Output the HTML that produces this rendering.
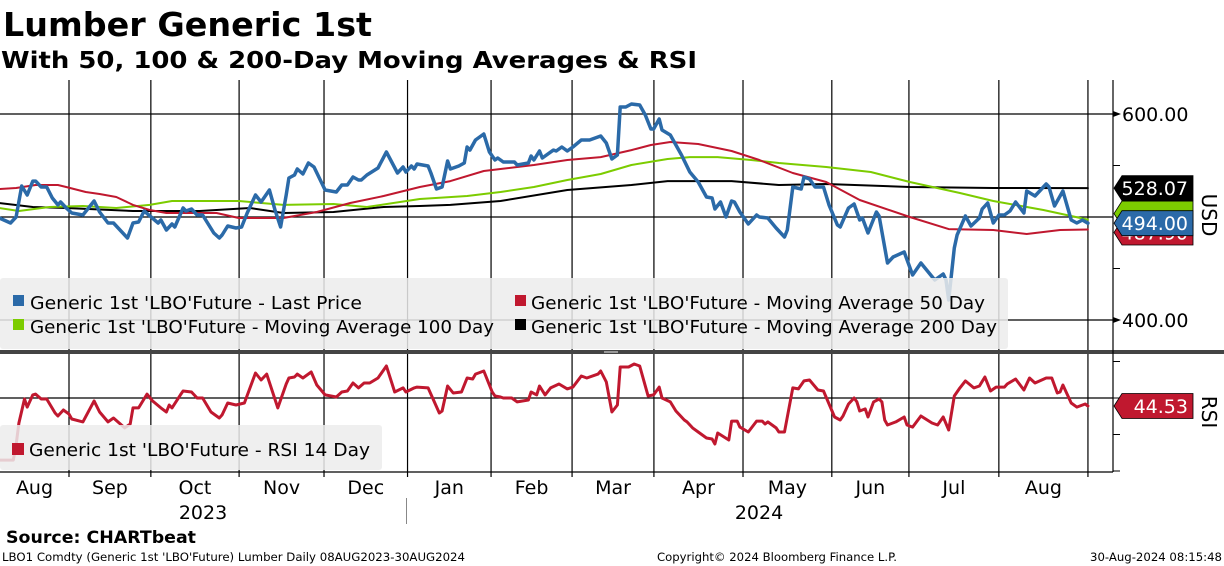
<!DOCTYPE html>
<html><head><meta charset="utf-8"><style>
html,body{margin:0;padding:0;background:#fff;}
svg{display:block;font-family:"DejaVu Sans","Liberation Sans",sans-serif;}
</style></head><body>
<svg id="chart" width="1224" height="566" viewBox="0 0 1224 566" xmlns="http://www.w3.org/2000/svg">
<text x="3" y="36" font-size="33" font-weight="bold" textLength="369" lengthAdjust="spacingAndGlyphs">Lumber Generic 1st</text>
<text x="1" y="68" font-size="23" font-weight="bold" textLength="696" lengthAdjust="spacingAndGlyphs">With 50, 100 &amp; 200-Day Moving Averages &amp; RSI</text>
<g id="grid"></g>
<g id="series"></g>
<g id="legend1">
<rect x="0" y="278" width="1008" height="71" rx="3" fill="#ececec" fill-opacity="0.85"/>
<rect x="13" y="295" width="11" height="11" fill="#2b6aa8"/>
<text x="30" y="309" font-size="18" textLength="332" lengthAdjust="spacingAndGlyphs">Generic 1st 'LBO'Future - Last Price</text>
<rect x="515" y="295" width="11" height="11" fill="#c0182f"/>
<text x="531" y="309" font-size="18" textLength="454" lengthAdjust="spacingAndGlyphs">Generic 1st 'LBO'Future - Moving Average 50 Day</text>
<rect x="13" y="319" width="11" height="11" fill="#7ccc00"/>
<text x="30" y="333" font-size="18" textLength="464" lengthAdjust="spacingAndGlyphs">Generic 1st 'LBO'Future - Moving Average 100 Day</text>
<rect x="515" y="319" width="11" height="11" fill="#000"/>
<text x="531" y="333" font-size="18" textLength="466" lengthAdjust="spacingAndGlyphs">Generic 1st 'LBO'Future - Moving Average 200 Day</text>
</g>
<g id="legend2">
<rect x="0" y="425" width="382" height="45" rx="3" fill="#ececec" fill-opacity="0.85"/>
<rect x="12" y="443" width="12" height="12" fill="#c0182f"/>
<text x="29" y="456" font-size="18" textLength="341" lengthAdjust="spacingAndGlyphs">Generic 1st 'LBO'Future - RSI 14 Day</text>
</g>
<rect x="0" y="350" width="1224" height="4" fill="#444"/>
<rect x="604" y="351" width="14" height="2" fill="#999"/>
<g id="axes"></g>
<g id="tags"></g>
<text transform="translate(1202,215) rotate(90)" text-anchor="middle" font-size="20">USD</text>
<text transform="translate(1202,412) rotate(90)" text-anchor="middle" font-size="20">RSI</text>
<text x="203" y="519" text-anchor="middle" font-size="19">2023</text>
<text x="759" y="519" text-anchor="middle" font-size="19">2024</text>
<line x1="406.5" y1="498" x2="406.5" y2="524" stroke="#888" stroke-width="1"/>
<text x="6" y="543" font-size="17" font-weight="bold" textLength="190" lengthAdjust="spacingAndGlyphs">Source: CHARTbeat</text>
<text x="2" y="561" font-size="11.5" textLength="463" lengthAdjust="spacingAndGlyphs">LBO1 Comdty (Generic 1st 'LBO'Future) Lumber  Daily 08AUG2023-30AUG2024</text>
<text x="657" y="561" font-size="11.5" textLength="240" lengthAdjust="spacingAndGlyphs">Copyright© 2024 Bloomberg Finance L.P.</text>
<text x="1222" y="561" font-size="11.5" text-anchor="end" textLength="132" lengthAdjust="spacingAndGlyphs">30-Aug-2024 08:15:48</text>
</svg>
<script>
// days since 2023-09-01
const priceDays=[-25,-21,-19,-17,-15,-13,-12,-10,-8,-6,-4,-3,-1,1,5,9,11,14,16,21,23,25,27,32,33,35,37,38,41,42,44,46,48,52,54,55,57,60,62,64,67,69,72,74,76,78,79,81,82,84,86,88,92,96,98,100,102,104,105,107,111,114,118,119,120,121,123,124,125,129,130,132,134,136,137,140,142,143,144,146,149,151,153,154,156,160,161,165,166,167,169,170,174,175,177,179,181,184,187,191,193,195,197,198,200,202,205,207,209,210,212,213,216,220,223,226,229,231,232,234,236,238,239,241,244,247,248,251,254,257,258,260,263,264,266,268,271,273,276,277,280,282,284,285,287,290,291,294,296,300,303,306,311,314,315,316,318,319,322,324,327,328,330,332,334,336,338,340,343,344,347,351,352,354,357,360,362,364,366];
const priceVals=[499.0,494.2,500.0,530.1,521.4,534.9,534.9,529.1,529.1,518.4,511.7,514.6,508.7,503.9,501.9,515.5,504.9,494.2,494.2,479.6,494.2,495.1,505.8,494.2,497.1,487.4,493.2,490.3,508.7,505.8,507.8,501.9,501.9,484.5,479.6,482.5,491.3,489.3,490.3,503.9,521.4,514.6,526.2,506.8,490.3,521.4,537.9,540.8,546.6,541.7,552.4,548.5,526.2,524.3,531.1,531.1,538.8,535.9,535.9,540.8,547.6,563.1,542.7,545.6,548.5,543.7,549.5,546.6,551.5,549.5,542.7,527.2,529.1,554.4,546.6,549.5,552.4,568.0,565.0,574.8,580.6,563.1,555.3,557.3,553.4,553.4,550.5,552.4,559.2,555.3,564.1,557.3,565.0,564.1,568.0,564.1,568.0,574.8,574.8,578.6,571.8,556.3,560.2,606.8,606.8,609.7,608.7,599.0,585.4,585.4,595.1,584.5,579.6,560.2,543.7,534.0,519.4,518.4,507.8,514.6,500.0,515.5,514.6,504.9,493.2,501.9,500.0,499.0,489.3,480.6,487.4,529.1,527.2,538.8,536.9,529.1,529.1,511.7,492.2,490.3,508.7,512.6,497.1,499.0,484.5,504.9,501.0,455.3,461.2,466.0,443.7,455.3,438.8,444.7,438.8,419.4,469.9,482.5,501.0,491.3,499.0,507.8,513.6,494.2,501.9,501.9,505.8,514.6,503.9,525.2,520.4,532.0,529.1,510.7,525.2,497.1,494.2,497.1,494.0];
const ma50Days=[-25,-19,-12,-4,-1,6,11,17,23,29,35,53,61,77,89,101,113,126,137,149,155,167,179,191,202,209,216,226,238,248,260,272,284,302,316,332,344,356,366];
const ma50Vals=[527.2,528.2,531.1,531.1,529.1,524.3,522.3,519.4,511.7,506.8,503.9,503.9,499.0,499.0,504.9,513.6,520.4,529.1,534.9,544.7,546.6,550.5,555.3,558.2,565.0,569.9,572.8,570.9,564.1,555.3,542.7,534.0,516.5,500.0,488.3,487.4,483.5,487.4,487.9];
const ma100Days=[-25,-18,-7,5,17,29,37,47,61,77,95,107,126,143,155,167,179,191,202,215,223,233,245,255,272,288,302,320,332,350,366];
const ma100Vals=[508.7,505.8,509.7,510.7,508.7,511.7,515.5,515.5,515.5,511.7,512.6,509.7,517.5,520.4,524.3,529.1,535.9,541.7,550.5,556.3,558.2,558.2,555.3,552.4,548.5,543.7,534.0,523.3,515.5,506.8,497.5];
const ma200Days=[-25,-13,-1,23,47,65,77,95,113,126,137,155,179,202,215,238,255,272,302,332,366];
const ma200Vals=[513.6,509.7,508.7,505.8,505.8,508.7,503.9,504.9,509.7,510.7,511.7,515.5,526.2,531.1,534.9,534.9,531.1,532.0,529.1,528.2,528.07];
const rsiDays=[-25,-20,-19,-18,-16,-15,-13,-12,-10,-8,-5,-4,-2,0,1,5,9,11,14,16,20,22,23,25,28,30,33,35,36,37,40,41,44,46,48,51,54,55,57,60,63,67,69,71,75,78,79,81,82,84,87,89,92,96,98,100,102,104,106,108,111,114,117,120,121,124,125,129,133,134,136,138,141,143,145,146,149,152,153,155,156,159,161,165,166,168,169,171,173,176,179,181,184,186,190,191,193,195,197,198,201,203,205,208,210,212,213,216,218,221,222,224,226,229,231,232,233,237,238,240,241,244,247,249,250,251,254,255,257,260,262,264,266,269,271,275,277,278,280,282,283,284,286,287,289,291,292,293,294,297,300,301,303,306,310,312,314,316,318,320,322,325,327,329,331,333,336,337,340,343,345,347,351,353,355,356,357,360,362,365,366];
const rsiVals=[7.5,7.5,17.8,32.9,49.3,43.8,52.1,52.7,49.3,49.3,39.7,37.7,41.8,39.0,35.6,33.6,48.0,40.4,33.6,36.3,29.5,32.2,43.2,43.2,52.7,48.0,43.2,40.4,45.2,43.2,52.1,54.8,54.1,50.0,50.0,40.4,36.3,38.4,46.6,45.2,46.6,67.1,62.3,66.4,43.2,59.6,63.7,64.4,66.4,63.7,67.8,58.9,52.1,50.7,54.1,54.8,60.3,56.9,60.3,60.3,63.7,71.9,54.1,56.9,54.1,56.9,57.5,56.9,39.7,41.1,58.2,53.4,54.1,63.7,63.0,66.4,68.5,54.1,51.4,50.7,50.0,50.0,47.3,48.6,54.1,52.1,58.2,52.1,56.9,59.6,56.2,57.5,65.1,63.7,66.4,68.5,61.0,40.4,45.2,71.2,71.2,73.3,71.9,51.4,52.1,57.5,50.0,47.3,41.1,34.9,33.6,29.5,26.7,22.6,21.9,18.5,26.0,21.2,34.2,34.2,30.1,26.7,34.2,34.2,32.2,33.6,29.5,26.7,26.7,56.9,56.2,61.7,62.3,55.5,54.8,37.0,34.9,37.7,45.9,50.0,47.3,41.1,42.5,37.0,47.3,49.3,47.3,34.9,31.5,33.6,37.0,31.5,30.1,37.7,32.9,31.5,37.0,28.1,51.4,56.9,61.7,56.9,58.2,64.4,54.8,57.5,57.5,59.6,63.0,55.5,63.7,60.3,63.7,63.7,53.4,54.1,58.9,46.6,43.8,45.9,44.53];
const gridDays=[0,29.4,61.1,91.6,121.6,151.6,180.7,210.1,242.1,274,301.7,334,366];
const monthLabels=["Aug","Sep","Oct","Nov","Dec","Jan","Feb","Mar","Apr","May","Jun","Jul","Aug"];
const priceTicks=[600,400];
const priceMinorTicks=[550,450];
const priceGrid=[600,500,400];
const rsiGrid=[50];
const rsiMinorTicks=[75,25,0];

const NS="http://www.w3.org/2000/svg";
const xS=d=>69+d*2.784;
const yP=p=>114+(600-p)*1.03;
const yR=v=>471-v*1.46;
function mk(tag,attrs,parent){const e=document.createElementNS(NS,tag);for(const k in attrs)e.setAttribute(k,attrs[k]);parent.appendChild(e);return e;}
const grid=document.getElementById('grid'),series=document.getElementById('series'),axes=document.getElementById('axes'),tags=document.getElementById('tags');

priceGrid.forEach(p=>{const l=mk('line',{x1:0,x2:1113,y1:yP(p),y2:yP(p),stroke:'#000','stroke-width':1.2},grid);

});
rsiGrid.forEach(v=>{const l=mk('line',{x1:0,x2:1113,y1:yR(v),y2:yR(v),stroke:'#000','stroke-width':1.2},grid);

});
gridDays.forEach(d=>{const l=mk('line',{x1:xS(d),x2:xS(d),y1:80,y2:477,stroke:'#000','stroke-width':1.2},grid);

});
monthLabels.forEach((m,i)=>{const a=i===0?xS(gridDays[0])-69:xS(gridDays[i-1]);const b=xS(gridDays[i]);
const t=mk('text',{x:(a+b)/2,y:494,'text-anchor':'middle','font-size':19},axes);t.textContent=m;

});

function line(days,vals,yf,color,w,name){const pts=days.map((d,i)=>xS(d).toFixed(1)+','+yf(vals[i]).toFixed(1)).join(' ');
const p=mk('polyline',{points:pts,fill:'none',stroke:color,'stroke-width':w,'stroke-linejoin':'round','stroke-linecap':'round'},series);

}
line(ma200Days,ma200Vals,yP,'#000',2,'ma200-line');
line(ma100Days,ma100Vals,yP,'#7ccc00',2,'ma100-line');
line(ma50Days,ma50Vals,yP,'#c0182f',2,'ma50-line');
line(priceDays,priceVals,yP,'#2b6aa8',3.5,'last-price-line');
line(rsiDays,rsiVals,yR,'#c0182f',3,'rsi-line');

const ax=mk('line',{x1:1113,x2:1113,y1:80,y2:472,stroke:'#000','stroke-width':1.2},axes);


const bx=mk('line',{x1:0,x2:1113,y1:472,y2:472,stroke:'#000','stroke-width':1.2},axes);


priceTicks.forEach(p=>{const y=yP(p);
const a=mk('polygon',{points:`1113,${y-3} 1121,${y} 1113,${y+3}`,fill:'#000'},axes);


const t=mk('text',{x:1122,y:y+7,'font-size':19},axes);t.textContent=p.toFixed(2);

});
priceMinorTicks.forEach(p=>{const l=mk('line',{x1:1113,x2:1120,y1:yP(p),y2:yP(p),stroke:'#000'},axes);

});
rsiMinorTicks.concat(rsiGrid).forEach(v=>{const l=mk('line',{x1:1113,x2:1120,y1:yR(v),y2:yR(v),stroke:'#000'},axes);

});

function tag(y,bg,fg,txt,name,h){h=h||25;
const g=mk('g',{},tags);


mk('polygon',{points:`1114,${y} 1122,${y-h/2} 1193,${y-h/2} 1193,${y+h/2} 1122,${y+h/2}`,fill:bg,stroke:'#000','stroke-width':0.8},g);
const t=mk('text',{x:1188,y:y+7,'font-size':19,'text-anchor':'end',fill:fg},g);t.textContent=txt;}
const last=a=>a[a.length-1];
tag(yP(last(ma50Vals))+3,'#c0182f','#fff',last(ma50Vals).toFixed(2),'ma50-value-tag');
tag(yP(last(ma100Vals))-6,'#7ccc00','#fff','','ma100-value-tag');
tag(yP(last(priceVals)),'#2b6aa8','#fff',last(priceVals).toFixed(2),'last-price-value-tag');
tag(yP(last(ma200Vals)),'#000','#fff',last(ma200Vals).toFixed(2),'ma200-value-tag');
tag(yR(last(rsiVals)),'#c0182f','#fff',last(rsiVals).toFixed(2),'rsi-value-tag');
</script>
</body></html>
